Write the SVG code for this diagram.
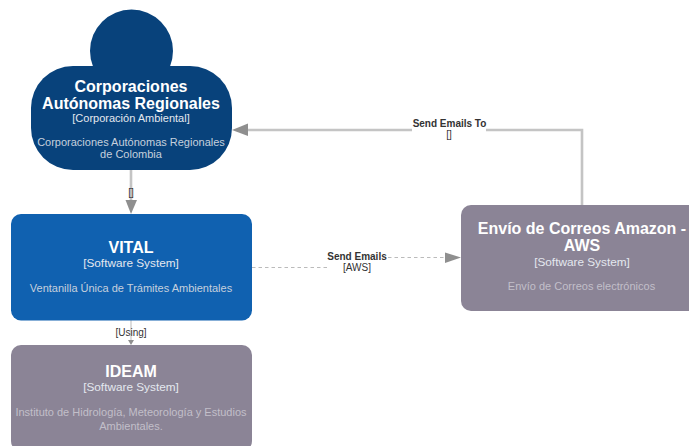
<svg xmlns="http://www.w3.org/2000/svg" width="689" height="446" viewBox="0 0 689 446">
<style>
text{font-family:"Liberation Sans",Arial,sans-serif;text-anchor:middle}
.t{fill:#fff;font-weight:700;font-size:16px}
.s{fill:#e4e8ef;font-size:11px}
.w{fill:#e4e8ef;font-size:11.800px}
.d{fill:#c6d0dd;font-size:11px}
.g{fill:#c2bfc9}
.l{fill:#333;font-size:10px}
.b{font-weight:700}
.c{fill:none;stroke:#c4c4c4;stroke-width:2.600}
.n{fill:none;stroke:#bbb;stroke-width:1}
.h{fill:#8f8f8f}
</style>
<rect width="689" height="446" fill="#fff"/>
<g id="connectors">
<path class="c" d="M131 170V200"/>
<path class="h" d="M125.500 200H137L131 214Z"/>
<text class="l" x="131" y="196">[]</text>
<path class="n" d="M131 320V341"/>
<path class="h" d="M128 340H134L131 345Z"/>
<text class="l" x="131" y="336">[Using]</text>
<path class="n" stroke-dasharray="3.500 3" d="M252 267.500H327"/>
<path class="n" stroke-dasharray="3.500 3" d="M388 257.500H445"/>
<path class="h" d="M445 252.500V263L461 257.500Z"/>
<text class="l b" x="357" y="259.500">Send Emails</text>
<text class="l" x="357" y="270.500">[AWS]</text>
<path class="c" d="M582 205V130H486"/>
<path class="c" d="M412 130H247"/>
<path class="h" d="M248 123.500V136L232 130Z"/>
<text class="l b" x="449.500" y="126.500">Send Emails To</text>
<text class="l" x="449" y="138">[]</text>
</g>
<g id="corporaciones">
<circle cx="131.500" cy="51" r="41.500" fill="#08427b"/>
<rect x="31" y="66" width="201" height="104" rx="42" fill="#08427b"/>
<text class="t" x="131" y="91.500">Corporaciones</text>
<text class="t" x="131" y="108.500">Autónomas Regionales</text>
<text class="s" x="131" y="121.500">[Corporación Ambiental]</text>
<text class="d" x="131" y="145.500">Corporaciones Autónomas Regionales</text>
<text class="d" x="131" y="157.500">de Colombia</text>
</g>
<g id="vital">
<rect x="11" y="214" width="241" height="106.500" rx="10" fill="#1061b0"/>
<text class="t" x="131" y="253">VITAL</text>
<text class="w" x="131" y="266.500">[Software System]</text>
<text class="d" x="131" y="292">Ventanilla Única de Trámites Ambientales</text>
</g>
<g id="ideam">
<rect x="11" y="345" width="241" height="106" rx="10" fill="#8b8496"/>
<text class="t" x="131" y="377">IDEAM</text>
<text class="w" x="131" y="390.500">[Software System]</text>
<text class="d g" x="131" y="416">Instituto de Hidrología, Meteorología y Estudios</text>
<text class="d g" x="131" y="430">Ambientales.</text>
</g>
<g id="envio">
<rect x="461" y="205" width="240" height="106" rx="10" fill="#8b8496"/>
<text class="t" x="582" y="234">Envío de Correos Amazon -</text>
<text class="t" x="582" y="251">AWS</text>
<text class="w" x="582" y="265.500">[Software System]</text>
<text class="d g" x="581.500" y="290">Envío de Correos electrónicos</text>
</g>
</svg>
